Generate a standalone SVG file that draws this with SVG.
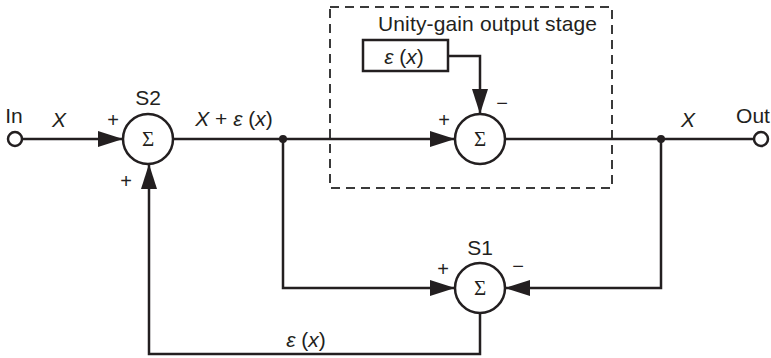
<svg xmlns="http://www.w3.org/2000/svg" width="771" height="358" viewBox="0 0 771 358">
<style>
.ln{fill:none;stroke:#231f20;stroke-width:2.5}
.sum{fill:#fff;stroke:#231f20;stroke-width:2.5}
.t{font-family:"Liberation Sans",Arial,sans-serif;font-size:21px;fill:#231f20}
.i{font-style:italic}
.sg{font-family:"Liberation Serif","Times New Roman",serif;font-size:21px;fill:#231f20}
.pm{font-family:"Liberation Sans",Arial,sans-serif;font-size:20px;fill:#231f20}
</style>
<defs>
<marker id="ah" markerUnits="userSpaceOnUse" markerWidth="26" markerHeight="18" viewBox="0 0 26 18" refX="25" refY="9" orient="auto">
<path d="M0,1 L25,9 L0,17 z" fill="#231f20"/>
</marker>
</defs>
<rect width="771" height="358" fill="#fff"/>
<rect id="stage" x="330" y="7" width="282" height="181" fill="none" stroke="#3a3a3a" stroke-width="2" stroke-dasharray="9 6"/>
<text class="t" x="378" y="31" textLength="219">Unity-gain output stage</text>
<g id="connectors">
<line class="ln" x1="22" y1="139" x2="123" y2="139" marker-end="url(#ah)"/>
<line class="ln" x1="173" y1="139" x2="455" y2="139" marker-end="url(#ah)"/>
<path class="ln" d="M283,139 V288 H455" marker-end="url(#ah)"/>
<line class="ln" x1="505" y1="139" x2="754" y2="139"/>
<path class="ln" d="M661,139 V288 H505" marker-end="url(#ah)"/>
<path class="ln" d="M480,313 V354 H149 V164" marker-end="url(#ah)"/>
<path class="ln" d="M448,56 H480 V114" marker-end="url(#ah)"/>
<circle cx="283" cy="139" r="4" fill="#231f20"/>
<circle cx="661" cy="139" r="4" fill="#231f20"/>
</g>
<g id="in">
<circle cx="15" cy="139" r="7" fill="#fff" stroke="#231f20" stroke-width="2.5"/>
<text class="t" x="14" y="123" text-anchor="middle">In</text>
</g>
<g id="out">
<circle cx="761" cy="139" r="7" fill="#fff" stroke="#231f20" stroke-width="2.5"/>
<text class="t" x="753" y="123" text-anchor="middle">Out</text>
</g>
<g id="s2">
<circle class="sum" cx="148" cy="139" r="25"/>
<text class="sg" x="148" y="146" text-anchor="middle">Σ</text>
<text class="t" x="148" y="105" text-anchor="middle">S2</text>
<text class="pm" x="113" y="127" text-anchor="middle">+</text>
<text class="pm" x="126" y="188" text-anchor="middle">+</text>
</g>
<g id="sout">
<circle class="sum" cx="480" cy="139" r="25"/>
<text class="sg" x="480" y="146" text-anchor="middle">Σ</text>
<text class="pm" x="444" y="127" text-anchor="middle">+</text>
<text class="pm" x="502" y="110" text-anchor="middle">−</text>
</g>
<g id="eps">
<rect x="363" y="40" width="85" height="31" fill="#fff" stroke="#231f20" stroke-width="2.5"/>
<text class="t" x="404" y="64" text-anchor="middle"><tspan class="i">ε</tspan> (<tspan class="i">x</tspan>)</text>
</g>
<g id="s1">
<circle class="sum" cx="480" cy="288" r="25"/>
<text class="sg" x="480" y="295" text-anchor="middle">Σ</text>
<text class="t" x="480" y="255" text-anchor="middle">S1</text>
<text class="pm" x="443" y="276" text-anchor="middle">+</text>
<text class="pm" x="518" y="273" text-anchor="middle">−</text>
</g>
<g id="labels">
<text class="t i" x="59" y="127" text-anchor="middle">X</text>
<text class="t" x="234" y="126" text-anchor="middle"><tspan class="i">X</tspan> + <tspan class="i">ε</tspan> (<tspan class="i">x</tspan>)</text>
<text class="t i" x="688" y="127" text-anchor="middle">X</text>
<text class="t" x="306" y="347" text-anchor="middle"><tspan class="i">ε</tspan> (<tspan class="i">x</tspan>)</text>
</g>
</svg>
